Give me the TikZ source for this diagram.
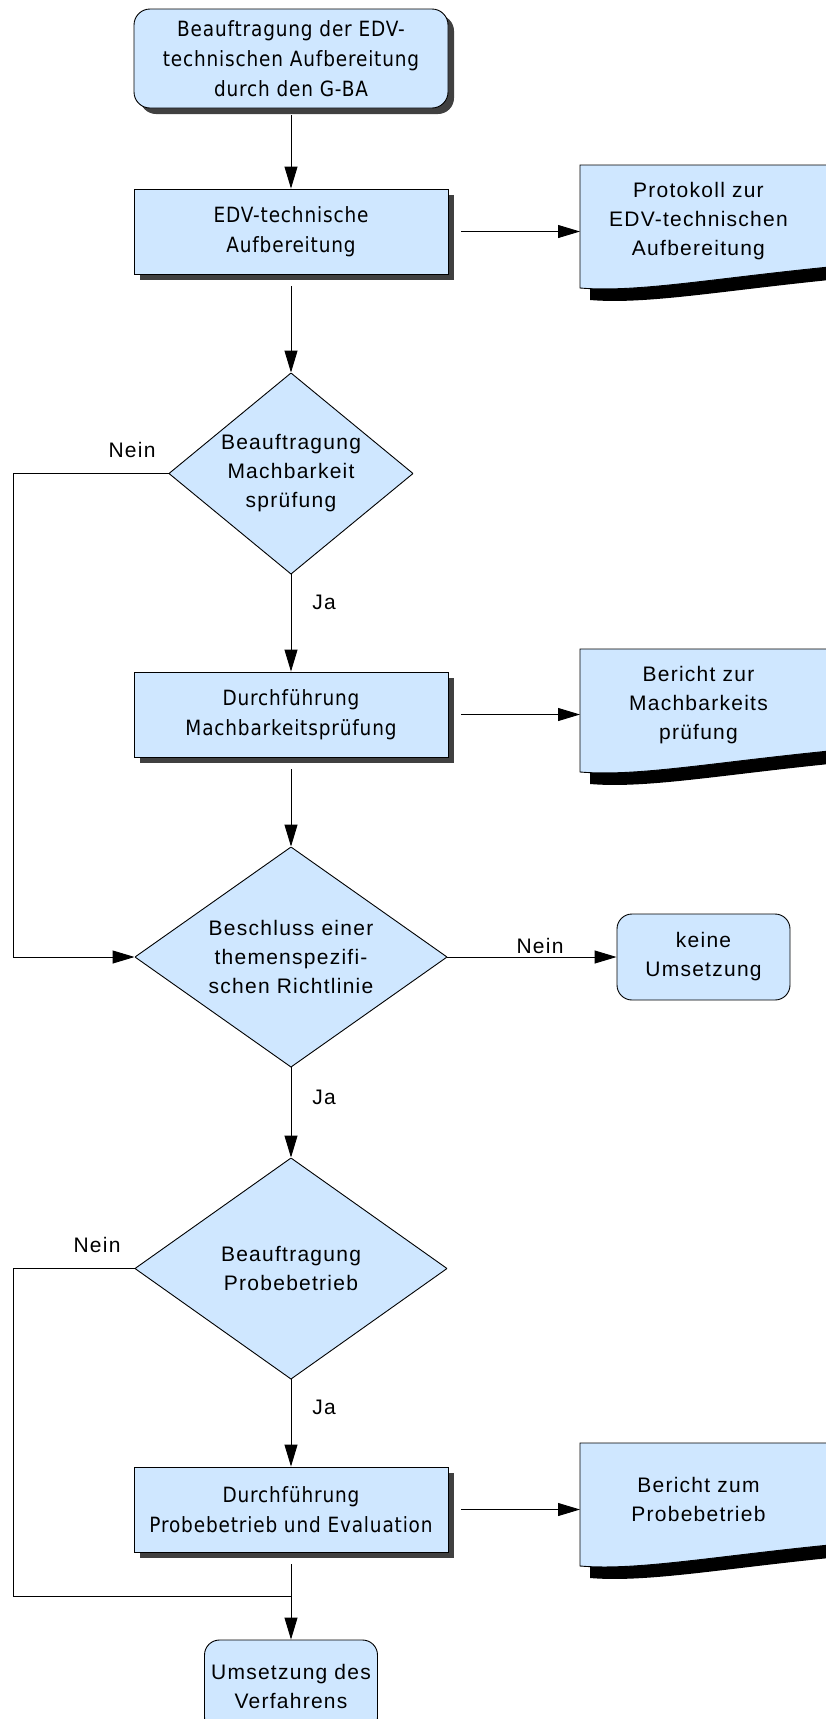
\documentclass[tikz,border=0pt]{standalone}
\usepackage{fontspec}
\setmainfont{Liberation Sans}[LetterSpace=6]
\newfontfamily\boxfont{DejaVu Sans}[FakeStretch=0.88,LetterSpace=4]
\usetikzlibrary{arrows.meta,shadows}
\definecolor{boxfill}{RGB}{207,231,255}

% document symbol with a wavy lower edge, anchored at its top left corner
\newcommand\docshape[1]{%
  \begin{scope}[shift={(#1)}]
    \fill[black] (10,12) -- (280,12) -- (280,112) .. controls (150,124) and (70,140) .. (10,135) -- cycle;
    \filldraw[fill=boxfill] (0,0) -- (270,0) -- (270,100) .. controls (140,112) and (60,128) .. (0,123) -- cycle;
  \end{scope}}

\begin{document}
\begin{tikzpicture}[x=1pt,y=-1pt,line width=0.9pt,
  every node/.style={font=\fontsize{21pt}{29pt}\selectfont, align=center, inner sep=0pt},
  arr/.style={-{Triangle[length=22pt,width=13pt]}},
  shade/.style={drop shadow={shadow xshift=6pt,shadow yshift=-6pt,fill=black,opacity=0.75}},
  process/.style={rectangle, draw, fill=boxfill, minimum width=314pt, minimum height=85pt,
    font=\boxfont\fontsize{21pt}{30pt}\selectfont, shade},
  startbox/.style={process, rounded corners=16pt, minimum height=99pt},
  terminal/.style={rectangle, draw, fill=boxfill, rounded corners=15pt, minimum width=173pt, minimum height=86pt},
  decision/.style={rectangle, path picture={\draw[fill=boxfill]
    (path picture bounding box.north) -- (path picture bounding box.east) --
    (path picture bounding box.south) -- (path picture bounding box.west) -- cycle;}},
  doctext/.style={anchor=north west, minimum width=236pt, minimum height=112pt}
]
\useasboundingbox (0,0) rectangle (826,1719);
\clip (0,0) rectangle (826,1719);

% main column
\node[startbox] (start) at (291,58.5) {Beauftragung der EDV-\\technischen Aufbereitung\\durch den G-BA};
\node[process] (edv) at (291,231.5) {EDV-technische\\Aufbereitung};
\node[decision, minimum width=244pt, minimum height=201pt] (d1) at (291,473.5) {Beauftragung\\Machbarkeit\\sprüfung};
\node[process] (mach) at (291,714.5) {Durchführung\\Machbarkeitsprüfung};
\node[decision, minimum width=312pt, minimum height=220pt] (d2) at (291,957) {Beschluss einer\\themenspezifi-\\schen Richtlinie};
\node[terminal] (keine) at (703.5,957) {keine\\Umsetzung};
\node[decision, minimum width=312pt, minimum height=221pt] (d3) at (291,1268.5) {Beauftragung\\Probebetrieb};
\node[process] (probe) at (291,1509.5) {Durchführung\\Probebetrieb und Evaluation};
\node[terminal, minimum height=92pt] (ende) at (291,1686) {Umsetzung des\\Verfahrens};

% documents
\coordinate (p1) at (580,165);
\coordinate (p2) at (580,649);
\coordinate (p3) at (580,1443);
\docshape{p1}
\docshape{p2}
\docshape{p3}
\node[doctext] (doc1) at (p1) {Protokoll zur\\EDV-technischen\\Aufbereitung};
\node[doctext] (doc2) at (p2) {Bericht zur\\Machbarkeits\\prüfung};
\node[doctext] (doc3) at (p3) {Bericht zum\\Probebetrieb};

% branch labels
\node (n1) at (132,450) {Nein};
\node (j1) at (324,602) {Ja};
\node (n2) at (540,946) {Nein};
\node (j2) at (324,1097) {Ja};
\node (n3) at (97,1245) {Nein};
\node (j3) at (324,1407) {Ja};

% connectors
\coordinate (k1) at (13,473.5);
\coordinate (k2) at (13,1268.5);
\coordinate (k3) at (13,1596);
\draw[arr, shorten <=7pt] (start.south) -- (edv.north);
\draw[arr, shorten <=13pt] (edv.east) -- (edv.east -| doc1.west);
\draw[arr, shorten <=12pt] (edv.south) -- (d1.north);
\draw[arr] (d1.west) -- (k1) |- (d2.west);
\draw[arr] (d1.south) -- (mach.north);
\draw[arr, shorten <=13pt] (mach.east) -- (mach.east -| doc2.west);
\draw[arr, shorten <=12pt] (mach.south) -- (d2.north);
\draw[arr] (d2.east) -- (keine.west);
\draw[arr] (d2.south) -- (d3.north);
\draw (d3.west) -- (k2) -- (k3) -- (k3 -| probe.south);
\draw[arr] (d3.south) -- (probe.north);
\draw[arr, shorten <=13pt] (probe.east) -- (probe.east -| doc3.west);
\draw[arr, shorten <=12pt] (probe.south) -- (ende.north);
\end{tikzpicture}
\end{document}
